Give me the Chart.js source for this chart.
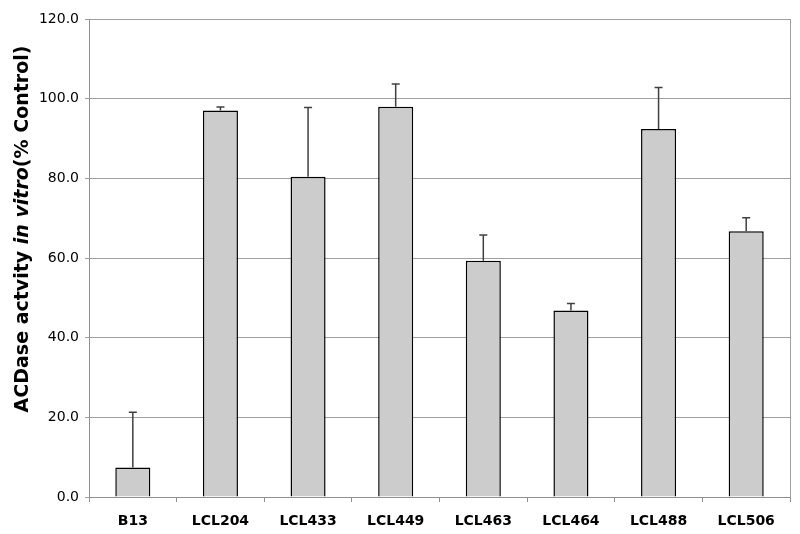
<!DOCTYPE html>
<html>
<head>
<meta charset="utf-8">
<script src="https://cdn.jsdelivr.net/npm/chart.js@4"></script>
<style>
  html, body { margin: 0; padding: 0; background: #fff; }
  #wrap { width: 800px; height: 534px; }
</style>
</head>
<body>
<div id="wrap"><canvas id="grafico"></canvas></div>
<script>
// Linhas celulares e atividade medida (% do controle)
const categorias = ["B13", "LCL204", "LCL433", "LCL449", "LCL463", "LCL464", "LCL488", "LCL506"];
const atividade = [7.4, 97.0, 80.4, 98.0, 59.3, 46.8, 92.4, 66.7];
// topo da barra de erro (só para cima)
const erroSuperior = [21.3, 97.9, 97.8, 103.7, 65.8, 48.6, 102.8, 70.1];
const ticksY = [0, 20, 40, 60, 80, 100, 120];

// Barras de erro desenhadas com a escala do próprio gráfico
const pluginErro = {
    id: "barrasErro",
    afterDatasetsDraw(chart) {
        const ctx = chart.ctx;
        const meta = chart.getDatasetMeta(0);
        const y = chart.scales.y;
        ctx.save();
        ctx.strokeStyle = "#404040";
        ctx.lineWidth = 1.5;
        meta.data.forEach(function (barra, i) {
            const x = barra.x;
            const yTopo = y.getPixelForValue(erroSuperior[i]);
            ctx.beginPath();
            ctx.moveTo(x, barra.y);
            ctx.lineTo(x, yTopo);
            ctx.moveTo(x - 4, yTopo);
            ctx.lineTo(x + 4, yTopo);
            ctx.stroke();
        });
        ctx.restore();
    }
};

// Borda direita da área do gráfico + título do eixo com "in vitro" em itálico
const pluginMoldura = {
    id: "moldura",
    beforeDatasetsDraw(chart) {
        const ctx = chart.ctx;
        const area = chart.chartArea;
        ctx.save();
        ctx.strokeStyle = "#a0a0a0";
        ctx.lineWidth = 1;
        ctx.beginPath();
        ctx.moveTo(area.right + 0.5, area.top);
        ctx.lineTo(area.right + 0.5, area.bottom);
        ctx.stroke();
        ctx.restore();
    },
    afterDraw(chart) {
        const ctx = chart.ctx;
        const partes = [
            { texto: "ACDase actvity ", fonte: "bold 19px 'DejaVu Sans'" },
            { texto: "in vitro", fonte: "italic bold 19px 'DejaVu Sans'" },
            { texto: "(% Control)", fonte: "bold 19px 'DejaVu Sans'" }
        ];
        let total = 0;
        partes.forEach(function (p) {
            ctx.font = p.fonte;
            p.largura = ctx.measureText(p.texto).width;
            total += p.largura;
        });
        ctx.save();
        ctx.translate(28, 229);
        ctx.rotate(-Math.PI / 2);
        ctx.fillStyle = "#000";
        ctx.textBaseline = "alphabetic";
        ctx.textAlign = "left";
        let x = -total / 2;
        partes.forEach(function (p) {
            ctx.font = p.fonte;
            ctx.fillText(p.texto, x, 0);
            x += p.largura;
        });
        ctx.restore();
    }
};

new Chart(document.getElementById("grafico"), {
    type: "bar",
    data: {
        labels: categorias,
        datasets: [{
            data: atividade,
            backgroundColor: "#cccccc",
            borderColor: "#000000",
            borderWidth: 1.5,
            barPercentage: 0.4,
            categoryPercentage: 1.0
        }]
    },
    options: {
        responsive: true,
        maintainAspectRatio: false,
        animation: false,
        layout: { padding: { top: 19, right: 10, left: 0, bottom: 0 } },
        plugins: {
            legend: { display: false },
            tooltip: { enabled: false }
        },
        scales: {
            x: {
                afterFit: function (escala) { escala.height = 37; },
                grid: {
                    drawOnChartArea: false,
                    drawTicks: true,
                    tickLength: 5,
                    color: "#909090"
                },
                border: { color: "#909090", width: 1 },
                ticks: {
                    color: "#000",
                    padding: 11,
                    font: { family: "'DejaVu Sans'", size: 14, weight: "bold" }
                }
            },
            y: {
                min: 0,
                max: 120,
                afterFit: function (escala) { escala.width = 89; },
                afterBuildTicks: function (escala) {
                    escala.ticks = ticksY.map(function (v) { return { value: v }; });
                },
                grid: {
                    color: "#a0a0a0",
                    lineWidth: 1,
                    drawTicks: true,
                    tickLength: 4
                },
                border: { color: "#909090", width: 1 },
                ticks: {
                    color: "#000",
                    padding: 6,
                    font: { family: "'DejaVu Sans'", size: 14 },
                    callback: function (v) { return Number(v).toFixed(1); }
                }
            }
        }
    },
    plugins: [pluginErro, pluginMoldura]
});
</script>
</body>
</html>
